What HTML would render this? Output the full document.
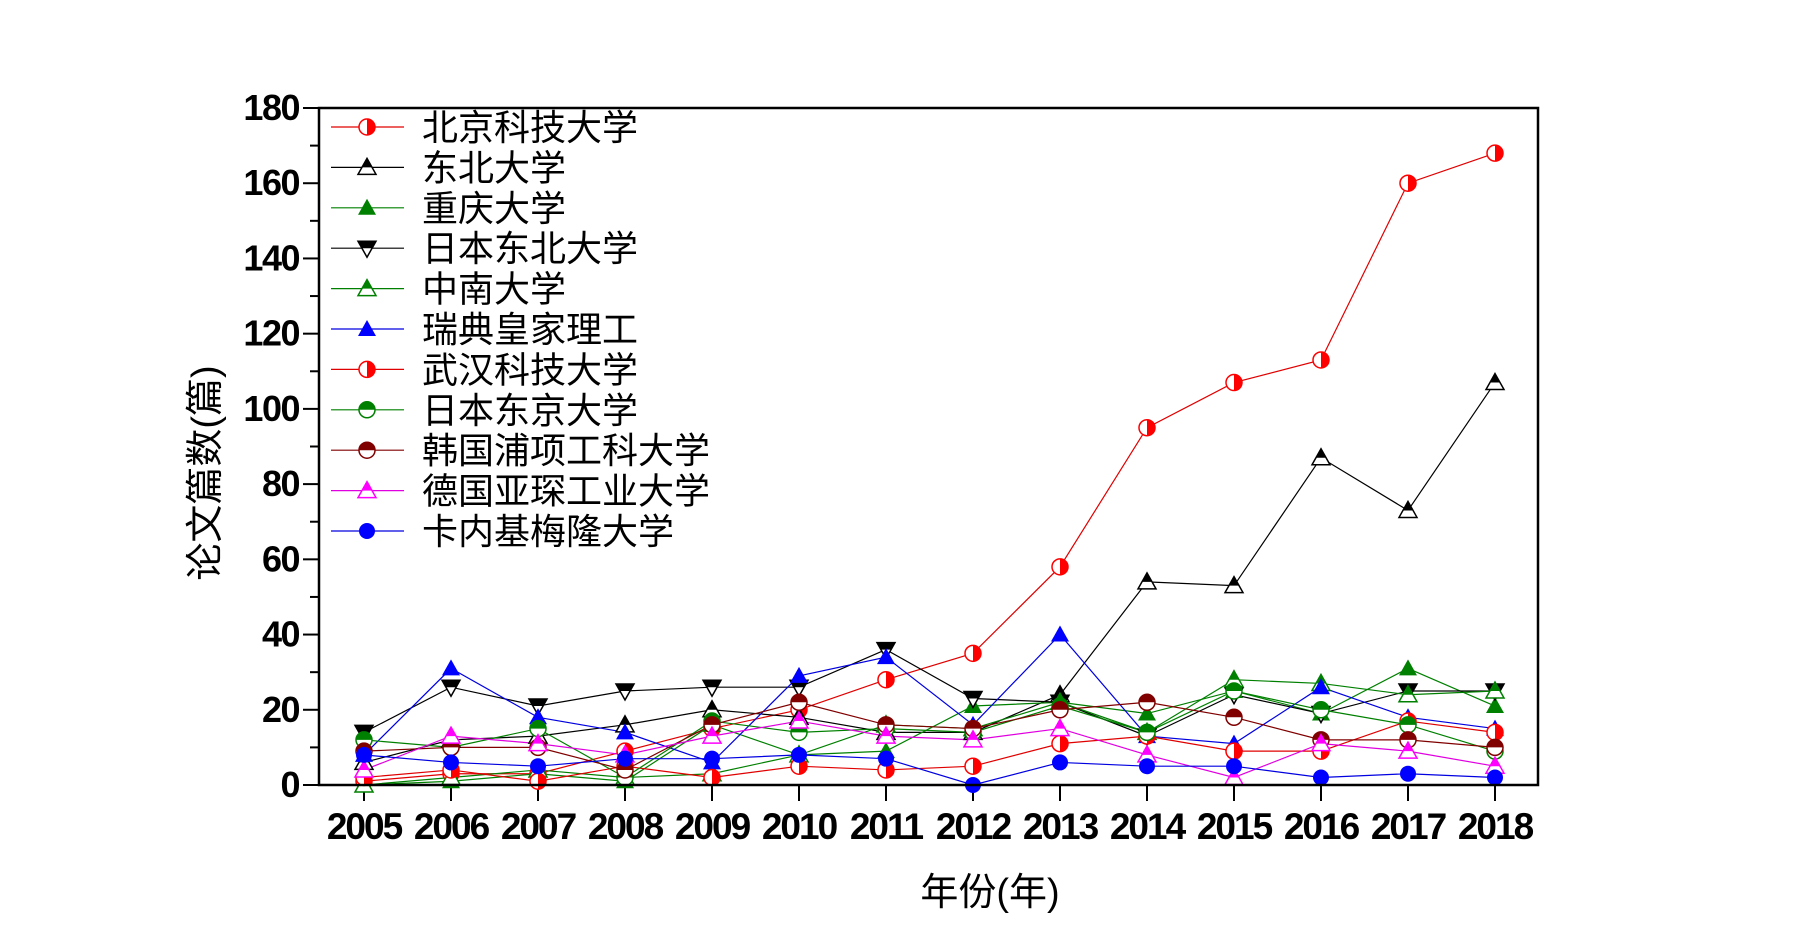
<!DOCTYPE html>
<html><head><meta charset="utf-8"><style>
html,body{margin:0;padding:0;background:#fff;}
svg{display:block;}
text{font-family:"Liberation Sans","Noto Sans CJK SC",sans-serif;}
</style></head><body>
<svg id="s" width="1800" height="945" xmlns="http://www.w3.org/2000/svg"></svg>
<script>
const s=document.getElementById('s');
const L=319,R=1538,T=108,B=785;
const X=i=>364+i*(1495-364)/13, Y=v=>B-v*(B-T)/180;
let h='';
h+=`<defs><clipPath id="c"><rect x="${L}" y="${T-10}" width="${R-L+10}" height="${B-T+20}"/></clipPath></defs>`;
for(let v=0;v<=180;v+=10){const y=Y(v);const maj=v%20==0;
 h+=`<line x1="${L-(maj?16:9)}" x2="${L}" y1="${y}" y2="${y}" stroke="#000" stroke-width="2"/>`;
 if(maj)h+=`<text x="${L-20}" y="${y+12}" font-size="36" font-weight="bold" text-anchor="end" letter-spacing="-1.5">${v}</text>`;}
for(let i=0;i<14;i++){h+=`<line x1="${X(i)}" x2="${X(i)}" y1="${B}" y2="${B+16}" stroke="#000" stroke-width="2"/>`;
 h+=`<text x="${X(i)}" y="${B+54}" font-size="37" font-weight="bold" text-anchor="middle" letter-spacing="-2">${2005+i}</text>`;}
h+=`<text x="990" y="905" font-size="38" text-anchor="middle">年份(年)</text>`;
h+=`<text transform="translate(218,473) rotate(-90)" font-size="38" text-anchor="middle">论文篇数(篇)</text>`;
const S=[
["北京科技大学","#e00000","hc","red",[1,3,3,9,15,20,28,35,58,95,107,113,160,168]],
["东北大学","#000","tu","#000",[6,12,13,16,20,18,14,14,24,54,53,87,73,107]],
["重庆大学","#008000","fu","#008000",[0,1,3,1,16,8,9,21,22,19,25,19,31,21]],
["日本东北大学","#000","td","#000",[14,26,21,25,26,26,36,23,22,13,24,19,25,25]],
["中南大学","#008000","tu","#008000",[0,2,4,2,3,8,16,15,22,14,28,27,24,25]],
["瑞典皇家理工","#0000e0","fu","#0000ff",[8,31,18,14,6,29,34,16,40,13,11,26,18,15]],
["武汉科技大学","#e00000","hc","red",[2,4,1,5,2,5,4,5,11,13,9,9,17,14]],
["日本东京大学","#008000","hb","#008000",[12,10,15,2,17,14,15,14,21,14,25,20,16,9]],
["韩国浦项工科大学","#800000","hb","#800000",[9,10,10,4,16,22,16,15,20,22,18,12,12,10]],
["德国亚琛工业大学","#e000e0","hu","#ff00ff",[4,13,11,8,13,17,13,12,15,8,2,11,9,5]],
["卡内基梅隆大学","#0000e0","fc","#0000ff",[8,6,5,7,7,8,7,0,6,5,5,2,3,2]]];
function mk(t,x,y,c){const r=8;
 if(t=='hc')return `<circle cx="${x}" cy="${y}" r="${r}" fill="#fff" stroke="${c}" stroke-width="1.5"/><path d="M${x} ${y-r}A${r} ${r} 0 0 1 ${x} ${y+r}Z" fill="${c}"/>`;
 if(t=='hb')return `<circle cx="${x}" cy="${y}" r="${r}" fill="#fff" stroke="${c}" stroke-width="1.5"/><path d="M${x-r} ${y}A${r} ${r} 0 0 1 ${x+r} ${y}Z" fill="${c}"/>`;
 if(t=='fc')return `<circle cx="${x}" cy="${y}" r="${r}" fill="${c}"/>`;
 const up=`${x},${y-r-1} ${x+r+1},${y+r-1} ${x-r-1},${y+r-1}`;
 if(t=='fu')return `<polygon points="${up}" fill="${c}"/>`;
 if(t=='hu'||t=='tu')return `<polygon points="${up}" fill="#fff" stroke="${c}" stroke-width="1.5"/><polygon points="${x},${y-r-1} ${x+r/2+1},${y} ${x-r/2-1},${y}" fill="${c}"/>`;
 if(t=='td')return `<polygon points="${x},${y+r+1} ${x+r+1},${y-r+1} ${x-r-1},${y-r+1}" fill="#fff" stroke="${c}" stroke-width="1.5"/><polygon points="${x-r-1},${y-r+1} ${x+r+1},${y-r+1} ${x+r/2+1},${y} ${x-r/2-1},${y}" fill="${c}"/>`;
}
h+='<g clip-path="url(#c)">';
S.forEach(([n,lc,t,mc,d])=>{h+=`<polyline points="${d.map((v,i)=>X(i)+','+Y(v)).join(' ')}" fill="none" stroke="${lc}" stroke-width="1.2"/>`;});
S.forEach(([n,lc,t,mc,d])=>{d.forEach((v,i)=>h+=mk(t,X(i),Y(v),mc));});
h+='</g>';
S.forEach(([n,lc,t,mc,d],k)=>{const y=127+k*40.4;
 h+=`<line x1="331" x2="404" y1="${y}" y2="${y}" stroke="${lc}" stroke-width="1.2"/>`+mk(t,367,y,mc);
 h+=`<text x="422" y="${y+13}" font-size="36">${n}</text>`;});
h+=`<rect x="${L}" y="${T}" width="${R-L}" height="${B-T}" fill="none" stroke="#000" stroke-width="2.5"/>`;
s.innerHTML=h;
</script>
</body></html>
